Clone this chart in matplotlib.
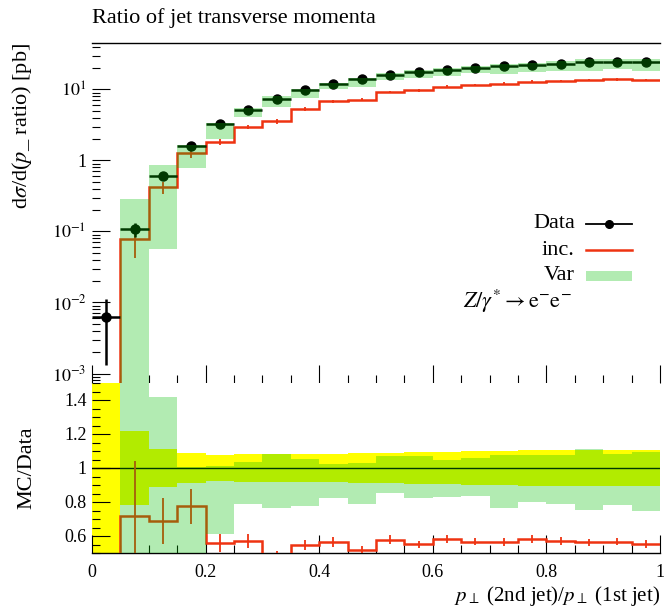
import matplotlib
matplotlib.use("Agg")
import matplotlib.pyplot as plt
import numpy as np
from matplotlib.lines import Line2D
from matplotlib.patches import Rectangle
from matplotlib.ticker import FuncFormatter, LogLocator, MultipleLocator, NullFormatter

plt.rcParams["font.family"] = ["Liberation Serif", "DejaVu Serif"]
plt.rcParams["mathtext.fontset"] = "stix"

# bins of p_T(2nd jet)/p_T(1st jet)
bin_edges = [0.00, 0.05, 0.10, 0.15, 0.20, 0.25, 0.30, 0.35, 0.40, 0.45, 0.50,
             0.55, 0.60, 0.65, 0.70, 0.75, 0.80, 0.85, 0.90, 0.95, 1.00]

# data points [pb] and their errors
data = [0.0063, 0.108, 0.605, 1.62, 3.3, 5.2, 7.4, 9.75, 12.1, 13.9,
        15.9, 17.6, 18.8, 20.3, 21.4, 22.1, 23.1, 24.2, 24.4, 24.4]
data_err = [0.005, 0.0234, 0.068, 0.147, 0.257, 0.43, 0.61, 0.81, 1.0, 1.24,
            1.43, 1.62, 1.73, 2.05, 2.2, 2.28, 2.38, 2.52, 2.59, 2.59]

# "inc." MC prediction and its errors
inc = [0.0, 0.0772, 0.417, 1.254, 1.838, 2.97, 3.55, 5.33, 6.81, 7.17,
       9.21, 9.70, 10.96, 11.51, 12.05, 12.88, 13.19, 13.62, 13.83, 13.49]
inc_err = [0.0, 0.035, 0.083, 0.163, 0.173, 0.223, 0.249, 0.309, 0.361, 0.315,
           0.414, 0.388, 0.416, 0.426, 0.506, 0.477, 0.501, 0.518, 0.512, 0.540]

# "Var" envelope, relative to data
var_lo = [np.nan, 0.005, 0.094, 0.48, 0.61, 0.788, 0.766, 0.776, 0.826, 0.788,
          0.855, 0.826, 0.832, 0.836, 0.764, 0.80, 0.788, 0.753, 0.782, 0.75]
var_hi = [np.nan, 2.67, 1.42, 1.006, 1.014, 1.037, 1.085, 1.055, 1.025, 1.028,
          1.073, 1.073, 1.049, 1.061, 1.079, 1.079, 1.079, 1.109, 1.085, 1.093]

edges = np.array(bin_edges)
centres = 0.5 * (edges[:-1] + edges[1:])
widths = np.diff(edges)
data = np.array(data)
data_err = np.array(data_err)
inc = np.array(inc)
inc_err = np.array(inc_err)
var_lo = np.array(var_lo)
var_hi = np.array(var_hi)

RED = "#ee3311"
GREEN = (0.0, 0.75, 0.0)
GALPHA = 0.3
FS = 16

fig = plt.figure(figsize=(6.66, 6.08), dpi=100)
W, H = 666, 608
ax1 = fig.add_axes([92 / W, 1 - 383 / H, 568 / W, 340 / H])
ax2 = fig.add_axes([92 / W, 1 - 553 / H, 568 / W, 170 / H], sharex=ax1)

# ---- main panel
ax1.set_yscale("log", nonpositive="clip")
ax1.stairs(inc, edges, baseline=None, color=RED, lw=1.8, zorder=2)
ax1.errorbar(centres[1:], inc[1:], yerr=inc_err[1:], fmt="none", ecolor=RED, elinewidth=1.3, zorder=2)
ax1.errorbar(centres, data, xerr=widths / 2, yerr=data_err, fmt="o", color="black",
             ms=6.5, elinewidth=1.8, capsize=0, zorder=3)
ok = ~np.isnan(var_lo)
ax1.bar(edges[:-1][ok], (data * (var_hi - var_lo))[ok], width=widths[ok], bottom=(data * var_lo)[ok],
        align="edge", color=GREEN, alpha=GALPHA, lw=0, zorder=4)
ax1.set_ylim(7.35e-4, 45)
ax1.set_xlim(0, 1)


def logfmt(v, pos):
    e = int(round(np.log10(v)))
    if e == 0:
        return "1"
    return r"$10^{%d}$" % e


ax1.yaxis.set_major_locator(LogLocator(base=10))
ax1.yaxis.set_minor_locator(LogLocator(base=10, subs=np.arange(2, 10)))
ax1.yaxis.set_major_formatter(FuncFormatter(logfmt))
ax1.yaxis.set_minor_formatter(NullFormatter())
ax1.tick_params(labelbottom=False)

# legend
ax1.text(0.850, 0.468, "Data", transform=ax1.transAxes, ha="right", va="center", fontsize=FS)
ax1.add_line(Line2D([0.870, 0.951], [0.468, 0.468], transform=ax1.transAxes, color="black", lw=1.3))
ax1.add_line(Line2D([0.910], [0.468], transform=ax1.transAxes, color="black", marker="o", ms=5.5))
ax1.text(0.850, 0.391, "inc.", transform=ax1.transAxes, ha="right", va="center", fontsize=FS)
ax1.add_line(Line2D([0.870, 0.951], [0.391, 0.391], transform=ax1.transAxes, color=RED, lw=1.8))
ax1.text(0.850, 0.315, "Var", transform=ax1.transAxes, ha="right", va="center", fontsize=FS)
ax1.add_patch(Rectangle((0.870, 0.300), 0.081, 0.030, transform=ax1.transAxes,
                        color=GREEN, alpha=GALPHA, lw=0))
ax1.text(0.845, 0.241, r"$Z/\gamma^{*} \rightarrow \mathrm{e}^{-}\mathrm{e}^{-}$", transform=ax1.transAxes,
         ha="right", va="center", fontsize=FS)

# ---- ratio panel
ax2.bar(edges[:-1], 2 * data_err / data, width=widths, bottom=1 - data_err / data,
        align="edge", color="#ffff00", lw=0, zorder=1)
ax2.axhline(1, color="black", lw=1.0, zorder=2)
ratio = inc / data
ax2.stairs(ratio, edges, baseline=None, color=RED, lw=1.8, zorder=3)
ax2.errorbar(centres[1:], ratio[1:], yerr=(inc_err / data)[1:], fmt="none", ecolor=RED,
             elinewidth=1.3, zorder=3)
ax2.bar(edges[:-1][ok], (var_hi - var_lo)[ok], width=widths[ok], bottom=var_lo[ok],
        align="edge", color=GREEN, alpha=GALPHA, lw=0, zorder=4)
ax2.set_ylim(0.5, 1.5)
ax2.yaxis.set_major_locator(MultipleLocator(0.2))
ax2.yaxis.set_minor_locator(MultipleLocator(0.05))
ax2.yaxis.set_major_formatter(FuncFormatter(lambda v, p: "%g" % round(v, 2)))
ax2.xaxis.set_major_locator(MultipleLocator(0.2))
ax2.xaxis.set_minor_locator(MultipleLocator(0.05))
ax2.xaxis.set_major_formatter(FuncFormatter(lambda v, p: "%g" % round(v, 2)))

for ax in (ax1, ax2):
    ax.tick_params(which="both", direction="in", top=False, right=False, width=0.8, labelsize=13)
    ax.tick_params(which="major", length=13)
    ax.tick_params(which="minor", length=6)
    ax.tick_params(axis="y", pad=4)
    ax.tick_params(axis="x", pad=8)
    for s in ("left", "right"):
        ax.spines[s].set_visible(False)
ax1.spines["bottom"].set_visible(False)
ax1.spines["top"].set_linewidth(1.0)
ax2.spines["top"].set_visible(False)
ax2.spines["bottom"].set_linewidth(1.0)

fig.text(92 / W, 1 - 18 / H, "Ratio of jet transverse momenta", ha="left", va="center", fontsize=FS)
fig.text(22 / W, 1 - 43 / H, r"d$\sigma$/d($p$_ ratio) [pb]", rotation=90, ha="center", va="top", fontsize=FS)
fig.text(27 / W, 1 - 468 / H, "MC/Data", rotation=90, ha="center", va="center", fontsize=FS)
fig.text(660 / W, 1 - 596 / H, r"$p_\perp$ (2nd jet)/$p_\perp$ (1st jet)", ha="right", va="center", fontsize=15)

fig.savefig("out.png", dpi=100)
plt.close(fig)
